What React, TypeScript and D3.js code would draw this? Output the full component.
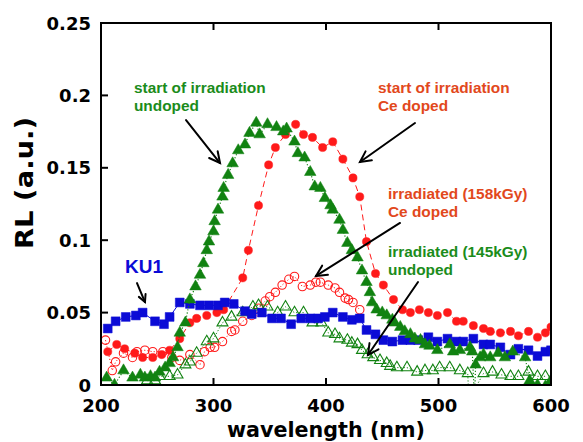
import React from 'react';
import * as d3 from 'd3';

// Axis domains and ticks
const X_DOMAIN: [number, number] = [200, 600];
const Y_DOMAIN: [number, number] = [0, 0.25];
const xTicks = [200, 300, 400, 500, 600];
const yTicks = [0, 0.05, 0.1, 0.15, 0.2, 0.25];
const yTickLabels = ['0', '0.05', '0.1', '0.15', '0.2', '0.25'];

type Pt = [number, number]; // [wavelength (nm), RL (a.u.)]

// KU1 reference sample
const ku1: Pt[] = [
  [206, 0.039], [213, 0.044], [222, 0.047], [231, 0.048], [237, 0.050], [248, 0.044],
  [256, 0.042], [261, 0.047], [270, 0.057], [279, 0.056], [288, 0.055], [296, 0.055],
  [304, 0.055], [310, 0.057], [318, 0.056], [328, 0.051], [334, 0.049], [343, 0.050],
  [352, 0.046], [360, 0.046], [369, 0.042], [378, 0.046], [386, 0.046], [393, 0.046],
  [399, 0.047], [406, 0.050], [415, 0.047], [423, 0.045], [430, 0.046], [436, 0.038],
  [444, 0.035], [451, 0.031], [459, 0.030], [468, 0.031], [475, 0.031], [482, 0.031],
  [491, 0.033], [499, 0.030], [508, 0.032], [516, 0.030], [522, 0.030], [531, 0.032],
  [540, 0.028], [546, 0.028], [555, 0.026], [564, 0.021], [571, 0.025], [580, 0.024],
  [588, 0.020], [595, 0.023], [600, 0.024],
];

// Ce doped, start of irradiation
const ceStart: Pt[] = [
  [206, 0.023], [214, 0.028], [221, 0.025], [230, 0.022], [237, 0.019], [246, 0.019],
  [254, 0.021], [261, 0.024], [270, 0.032], [279, 0.043], [285, 0.046], [294, 0.048],
  [303, 0.050], [309, 0.052], [326, 0.074], [331, 0.093], [340, 0.124], [349, 0.152],
  [355, 0.164], [364, 0.173], [373, 0.180], [380, 0.173], [388, 0.171], [397, 0.164],
  [406, 0.168], [415, 0.156], [424, 0.143], [430, 0.130], [436, 0.099], [444, 0.077],
  [451, 0.069], [460, 0.059], [468, 0.052], [475, 0.050], [483, 0.052], [491, 0.050],
  [499, 0.048], [508, 0.050], [516, 0.044], [522, 0.044], [531, 0.041], [540, 0.039],
  [546, 0.037], [555, 0.036], [564, 0.037], [571, 0.034], [580, 0.037], [588, 0.033],
  [595, 0.036], [600, 0.040],
];

// Ce doped, irradiated (158 kGy)
const ceIrradiated: Pt[] = [
  [204, 0.031], [210, 0.010], [213, 0.016], [220, 0.022], [228, 0.019], [232, 0.023],
  [239, 0.024], [246, 0.023], [255, 0.023], [263, 0.019], [270, 0.017], [279, 0.021],
  [288, 0.014], [292, 0.023], [297, 0.026], [301, 0.026], [308, 0.030], [316, 0.037],
  [319, 0.038], [326, 0.044], [334, 0.048], [340, 0.053], [346, 0.058], [350, 0.061],
  [355, 0.064], [361, 0.069], [367, 0.073], [372, 0.075], [379, 0.068], [386, 0.069],
  [391, 0.071], [395, 0.071], [402, 0.069], [408, 0.067], [412, 0.064], [417, 0.060],
  [420, 0.059], [424, 0.057], [430, 0.052],
];

// Undoped, start of irradiation
const undopedStart: Pt[] = [
  [205, 0.005], [212, 0.000], [220, 0.010], [228, 0.005], [235, 0.007], [239, 0.005],
  [244, 0.006], [248, 0.005], [252, 0.009], [257, 0.012], [261, 0.015], [264, 0.019],
  [268, 0.026], [270, 0.036], [275, 0.043], [279, 0.059], [284, 0.068], [288, 0.076],
  [291, 0.084], [294, 0.093], [296, 0.099], [300, 0.106], [301, 0.113], [304, 0.121],
  [308, 0.130], [309, 0.136], [313, 0.145], [317, 0.153], [322, 0.162], [328, 0.166],
  [332, 0.174], [338, 0.181], [341, 0.173], [348, 0.180], [356, 0.178], [362, 0.175],
  [365, 0.177], [372, 0.168], [375, 0.160], [381, 0.157], [386, 0.147], [390, 0.137],
  [395, 0.136], [399, 0.129], [404, 0.124], [406, 0.121], [412, 0.114], [415, 0.107],
  [419, 0.098], [423, 0.093], [428, 0.088], [432, 0.079], [436, 0.071], [439, 0.064],
  [441, 0.057], [445, 0.052], [450, 0.050], [454, 0.048], [459, 0.045], [461, 0.043],
  [466, 0.040], [470, 0.037], [475, 0.035], [479, 0.032], [484, 0.031], [488, 0.028],
  [492, 0.027], [499, 0.024], [510, 0.028], [513, 0.023], [519, 0.024], [528, 0.026],
  [530, 0.023], [532, -0.010], [533, 0.014], [537, 0.019], [540, 0.021], [546, 0.019],
  [553, 0.022], [559, 0.019], [566, 0.023], [577, 0.019], [581, 0.003], [588, 0.000],
  [595, -0.001], [599, 0.002],
];

// Undoped, irradiated (145 kGy)
const undopedIrradiated: Pt[] = [
  [241, 0.003], [248, 0.003], [252, 0.006], [261, 0.006], [268, 0.007], [275, 0.014],
  [279, 0.016], [285, 0.022], [294, 0.030], [300, 0.032], [308, 0.043], [316, 0.047],
  [326, 0.050], [335, 0.054], [340, 0.055], [348, 0.054], [357, 0.050], [364, 0.054],
  [372, 0.050], [380, 0.050], [388, 0.043], [396, 0.043], [402, 0.036], [408, 0.035],
  [412, 0.032], [419, 0.031], [423, 0.029], [428, 0.028], [432, 0.024], [437, 0.021],
  [442, 0.019], [448, 0.017], [454, 0.015], [457, 0.013], [463, 0.012], [472, 0.012],
  [481, 0.009], [488, 0.010], [495, 0.010], [501, 0.012], [510, 0.012], [519, 0.010],
  [526, 0.008], [527, -0.010], [540, 0.008], [548, 0.009], [556, 0.007], [564, 0.006],
  [571, 0.006], [580, 0.009], [588, 0.006], [595, 0.006],
];

const GREEN = '#118211';
const GREEN_TEXT = '#1b8c1b';
const RED = '#ff1a1a';
const CE_TEXT = '#e2481c';
const BLUE = '#0b0bd6';

const W = 583;
const H = 442;
const M = { left: 101, right: 551, top: 23, bottom: 385 };

const x = d3.scaleLinear().domain(X_DOMAIN).range([M.left, M.right]);
const y = d3.scaleLinear().domain(Y_DOMAIN).range([M.bottom, M.top]);

interface SeriesDef {
  key: string;
  data: Pt[];
  color: string;
  symbol: d3.SymbolType;
  size: number;
  filled: boolean;
  dash: string | undefined;
  lineWidth: number;
}

const series: SeriesDef[] = [
  { key: 'ceIrr', data: ceIrradiated, color: RED, symbol: d3.symbolCircle, size: 56, filled: false, dash: '1.2,2', lineWidth: 1 },
  { key: 'undIrr', data: undopedIrradiated, color: GREEN, symbol: d3.symbolTriangle, size: 52, filled: false, dash: '1.2,2', lineWidth: 1 },
  { key: 'ceStart', data: ceStart, color: RED, symbol: d3.symbolCircle, size: 52, filled: true, dash: '6,4', lineWidth: 1 },
  { key: 'ku1', data: ku1, color: BLUE, symbol: d3.symbolSquare, size: 78, filled: true, dash: undefined, lineWidth: 1 },
  { key: 'undStart', data: undopedStart, color: GREEN, symbol: d3.symbolTriangle, size: 58, filled: true, dash: '1.2,2', lineWidth: 1.2 },
];

const line = d3
  .line<Pt>()
  .x((d) => x(d[0]))
  .y((d) => y(d[1]));

const FONT_AXIS = '"DejaVu Sans", sans-serif';
const FONT_NOTE = '"Liberation Sans", Arial, sans-serif';

interface Note {
  lines: string[];
  at: Pt;
  color: string;
  size: number;
  lineGap: number;
}

const notes: Note[] = [
  { lines: ['start of irradiation', 'undoped'], at: [229.3, 0.2017], color: GREEN_TEXT, size: 15.4, lineGap: 18.5 },
  { lines: ['start of irradiation', 'Ce doped'], at: [446.2, 0.2017], color: CE_TEXT, size: 15.4, lineGap: 18.5 },
  { lines: ['irradiated (158kGy)', 'Ce doped'], at: [455.1, 0.1285], color: CE_TEXT, size: 15.4, lineGap: 18.5 },
  { lines: ['irradiated (145kGy)', 'undoped'], at: [455.1, 0.0884], color: GREEN_TEXT, size: 15.4, lineGap: 18.5 },
  { lines: ['KU1'], at: [221.3, 0.0773], color: BLUE, size: 19, lineGap: 0 },
];

interface ArrowDef {
  from: Pt;
  to: Pt;
  head: number;
}

const arrows: ArrowDef[] = [
  { from: [275.6, 0.183], to: [305.8, 0.1533], head: 12 },
  { from: [479.1, 0.1809], to: [430.2, 0.154], head: 12 },
  { from: [465.8, 0.1119], to: [391.1, 0.0753], head: 12 },
  { from: [481.8, 0.0711], to: [437.3, 0.0207], head: 12 },
  { from: [232.0, 0.0704], to: [239.1, 0.0573], head: 8 },
];

function Arrow({ a }: { a: ArrowDef }) {
  const x1 = x(a.from[0]);
  const y1 = y(a.from[1]);
  const x2 = x(a.to[0]);
  const y2 = y(a.to[1]);
  const ang = Math.atan2(y2 - y1, x2 - x1);
  const spread = (27 * Math.PI) / 180;
  const h1: [number, number] = [x2 - a.head * Math.cos(ang - spread), y2 - a.head * Math.sin(ang - spread)];
  const h2: [number, number] = [x2 - a.head * Math.cos(ang + spread), y2 - a.head * Math.sin(ang + spread)];
  return (
    <g stroke="#000" strokeWidth={2} fill="none" strokeLinecap="round" strokeLinejoin="miter">
      <line x1={x1} y1={y1} x2={x2} y2={y2} />
      <polyline points={`${h1[0]},${h1[1]} ${x2},${y2} ${h2[0]},${h2[1]}`} />
    </g>
  );
}

export default function App() {
  const tickLen = 7;
  return (
    <svg
      width={W}
      height={H}
      viewBox={`0 0 ${W} ${H}`}
      style={{ position: 'absolute', left: 0, top: 0, background: '#fff' }}
    >
      <defs>
        <clipPath id="plot-clip">
          <rect x={M.left} y={M.top} width={M.right - M.left} height={M.bottom - M.top} />
        </clipPath>
      </defs>
      <rect x={0} y={0} width={W} height={H} fill="#fff" />

      {/* series */}
      <g clipPath="url(#plot-clip)">
        {series.map((s) => {
          const sym = d3.symbol().type(s.symbol).size(s.size)();
          return (
            <g key={s.key}>
              <path
                d={line(s.data) ?? ''}
                fill="none"
                stroke={s.color}
                strokeWidth={s.lineWidth}
                strokeDasharray={s.dash}
              />
              {s.data.map((d, i) => (
                <path
                  key={i}
                  d={sym ?? ''}
                  transform={`translate(${x(d[0])},${y(d[1])})`}
                  fill={s.filled ? s.color : '#fff'}
                  fillOpacity={s.filled ? 1 : 0}
                  stroke={s.color}
                  strokeWidth={s.filled ? 0.5 : 1.1}
                />
              ))}
            </g>
          );
        })}
      </g>

      {/* frame */}
      <rect
        x={M.left}
        y={M.top}
        width={M.right - M.left}
        height={M.bottom - M.top}
        fill="none"
        stroke="#000"
        strokeWidth={2}
      />

      {/* ticks: bottom, top and left */}
      <g stroke="#000" strokeWidth={2}>
        {xTicks.map((t) => (
          <g key={`xt${t}`}>
            <line x1={x(t)} x2={x(t)} y1={M.bottom} y2={M.bottom - tickLen} />
            <line x1={x(t)} x2={x(t)} y1={M.top} y2={M.top + tickLen} />
          </g>
        ))}
        {yTicks.map((t) => (
          <line key={`yt${t}`} x1={M.left} x2={M.left + tickLen} y1={y(t)} y2={y(t)} />
        ))}
      </g>

      {/* tick labels */}
      <g fontFamily={FONT_AXIS} fontWeight="bold" fontSize={18} fill="#000">
        {xTicks.map((t) => (
          <text key={`xl${t}`} x={x(t)} y={M.bottom + 27} textAnchor="middle">
            {d3.format('d')(t)}
          </text>
        ))}
        {yTicks.map((t, i) => (
          <text key={`yl${t}`} x={M.left - 10} y={y(t) + 6.5} textAnchor="end">
            {yTickLabels[i]}
          </text>
        ))}
      </g>

      {/* axis titles */}
      <text
        x={(M.left + M.right) / 2}
        y={437}
        textAnchor="middle"
        fontFamily={FONT_AXIS}
        fontWeight="bold"
        fontSize={21.5}
        textLength={198}
        lengthAdjust="spacingAndGlyphs"
        fill="#000"
      >
        wavelength (nm)
      </text>
      <text
        transform={`translate(33,183) rotate(-90)`}
        textAnchor="middle"
        fontFamily={FONT_AXIS}
        fontWeight="bold"
        fontSize={25}
        textLength={132}
        lengthAdjust="spacingAndGlyphs"
        fill="#000"
      >
        RL (a.u.)
      </text>

      {/* annotations */}
      {notes.map((n, i) => (
        <text
          key={`n${i}`}
          x={x(n.at[0])}
          y={y(n.at[1])}
          fontFamily={FONT_NOTE}
          fontWeight="bold"
          fontSize={n.size}
          fill={n.color}
        >
          {n.lines.map((l, j) => (
            <tspan key={j} x={x(n.at[0])} dy={j === 0 ? 0 : n.lineGap}>
              {l}
            </tspan>
          ))}
        </text>
      ))}
      {arrows.map((a, i) => (
        <Arrow key={`a${i}`} a={a} />
      ))}
    </svg>
  );
}
